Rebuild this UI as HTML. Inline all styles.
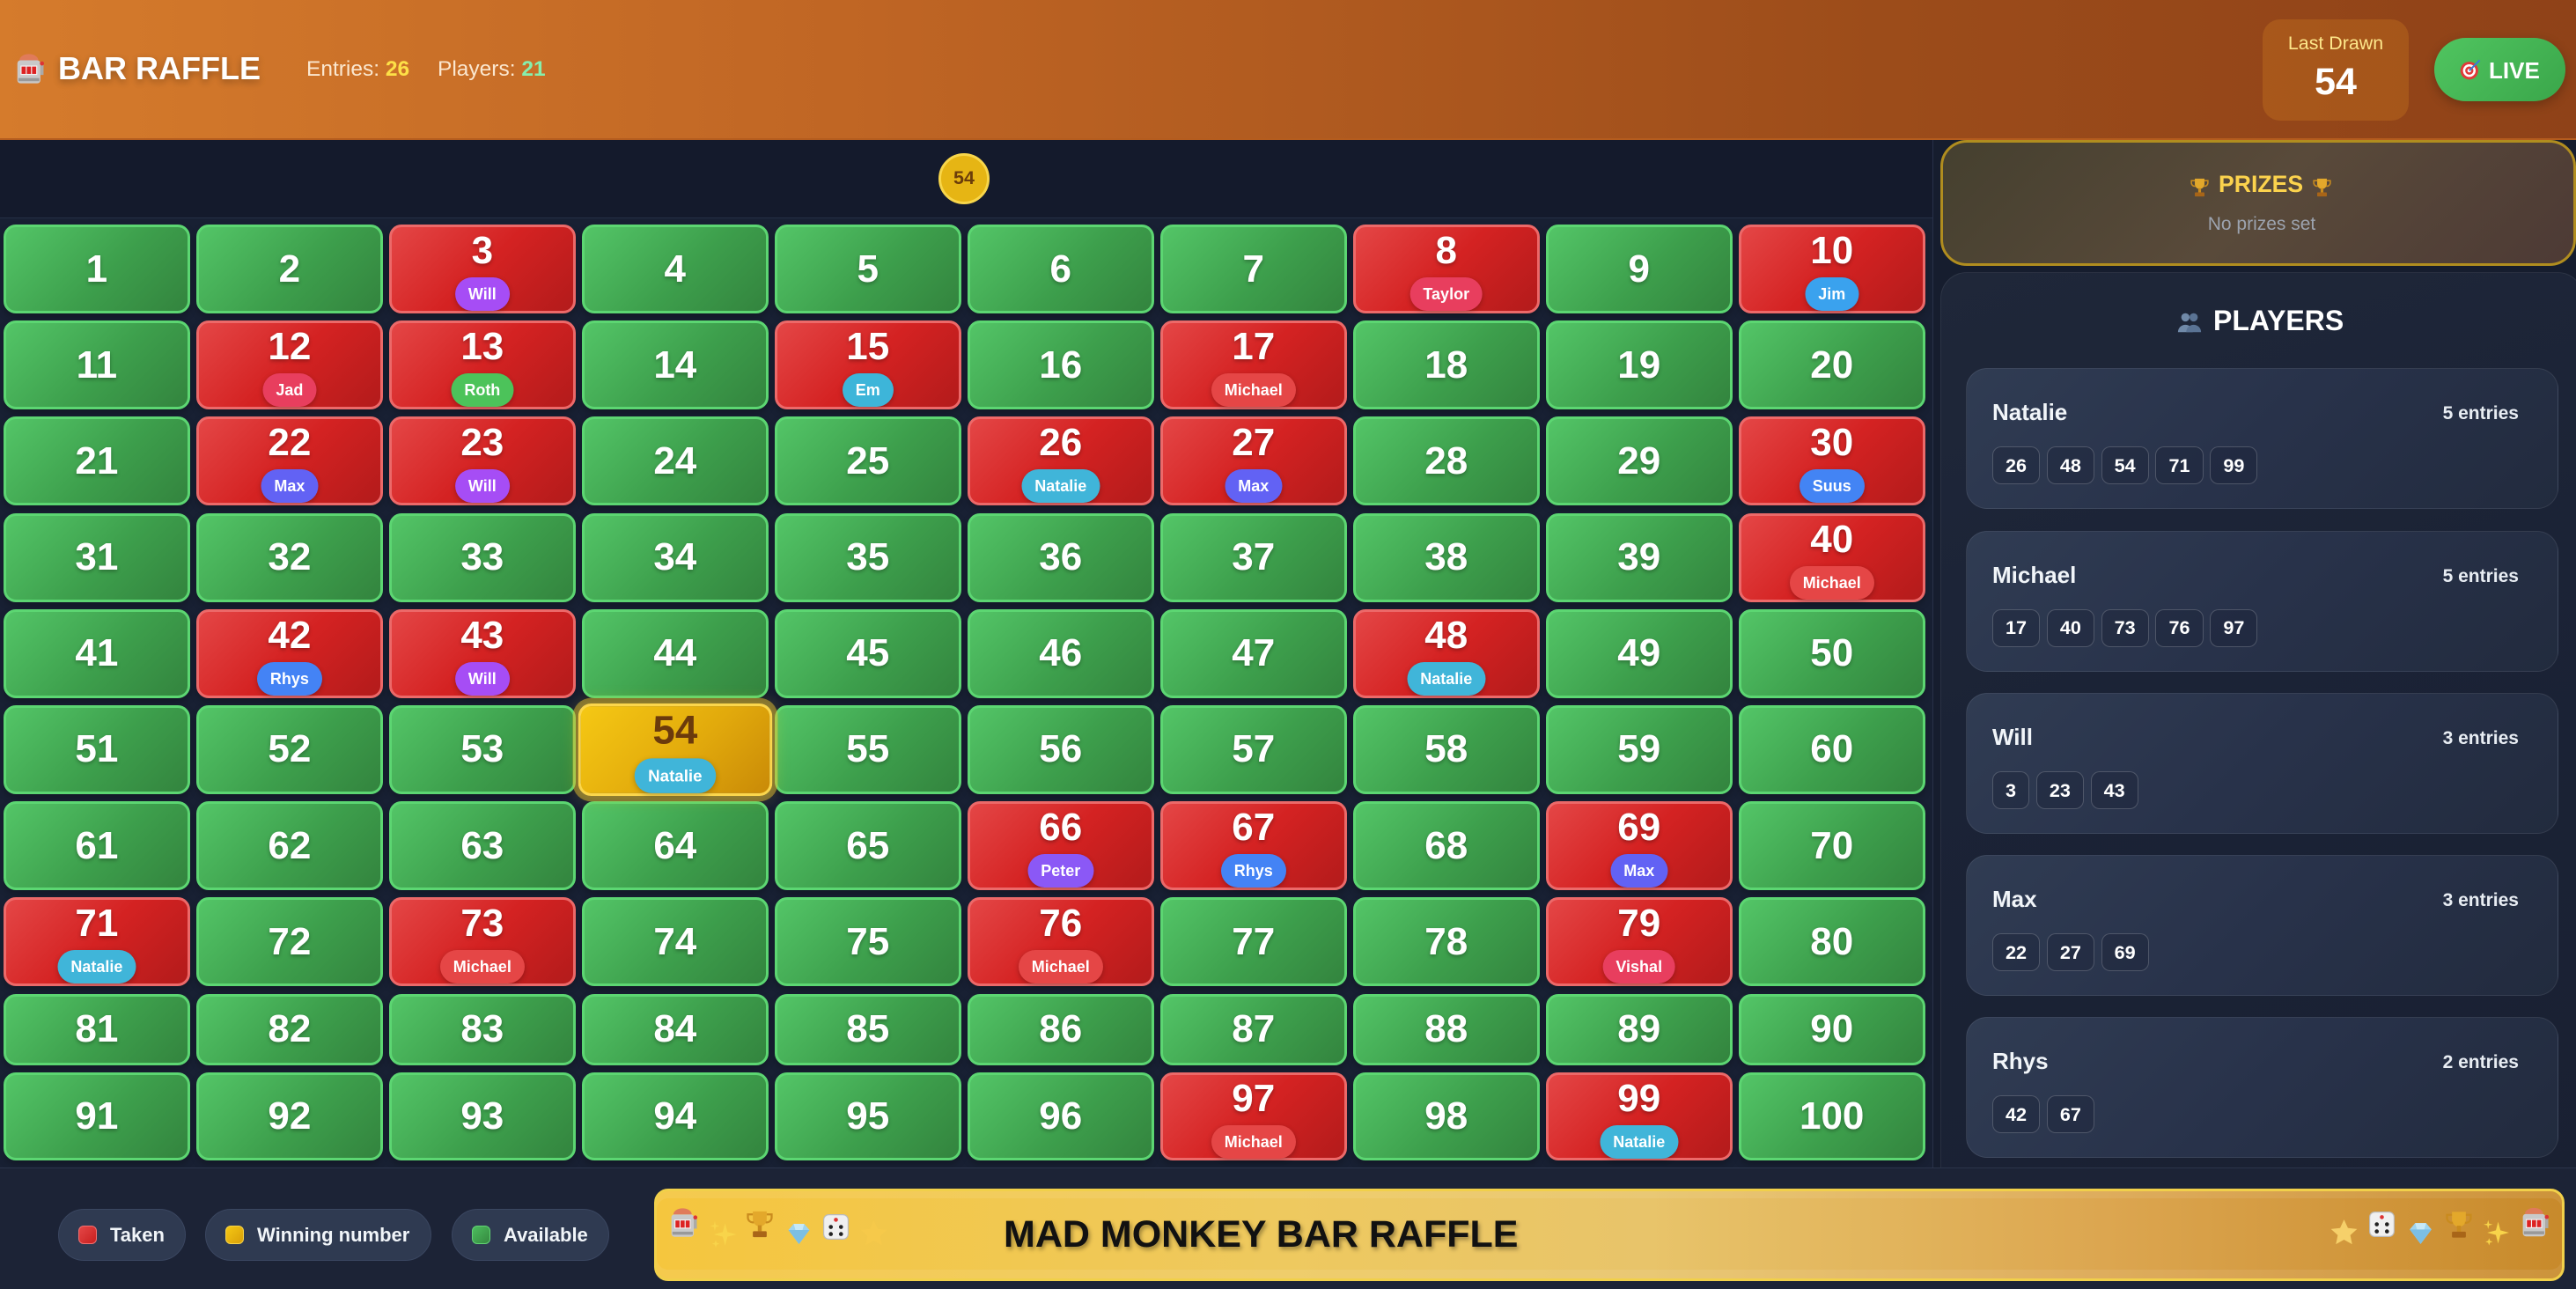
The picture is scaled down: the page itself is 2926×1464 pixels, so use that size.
<!DOCTYPE html>
<html><head><meta charset="utf-8">
<style>
*{margin:0;padding:0;box-sizing:border-box}
html,body{width:2926px;height:1464px;overflow:hidden;background:#171e30;font-family:"Liberation Sans",Arial,sans-serif;color:#fff}
.abs{position:absolute}
#hdr{position:absolute;left:0;top:0;width:2926px;height:159px;background:linear-gradient(90deg,#d57b2c 0%,#bf6524 34%,#9c4c1a 73%,#8f4218 100%);border-bottom:2px solid #b45c1e}
#band{position:absolute;left:0;top:159px;width:2195px;height:89px;background:#141a2c;border-bottom:1px solid #252e44}
#gridbg{position:absolute;left:0;top:248px;width:2195px;height:1078px;background:#182033}
#vline{position:absolute;left:2195px;top:159px;width:1px;height:1167px;background:#283048}
#side{position:absolute;left:2196px;top:159px;width:730px;height:1167px;background:#161d2e;overflow:hidden}
#foot{position:absolute;left:0;top:1326px;width:2926px;height:138px;background:#1c2336;border-top:1px solid #2b344a}
.grid{position:absolute;left:4px;top:255px;display:grid;grid-template-columns:repeat(10,211.7px);column-gap:7.3px;row-gap:8.2px;grid-template-rows:repeat(8,101px) 81px 100px}
.grid>div{position:relative;border:3px solid;border-radius:14px;display:flex;align-items:center;justify-content:center;color:#fff;font:bold 44px/44px "Liberation Sans",Arial,sans-serif;text-shadow:0 2px 4px rgba(0,0,0,.3);box-shadow:0 4px 8px rgba(0,0,0,.25)}
.grid .g{background:linear-gradient(135deg,#53c567 0%,#3d9f4c 55%,#33843e 100%);border-color:#5cd672}
.grid .r{background:linear-gradient(135deg,#e44646 0%,#d42222 50%,#b31b1b 100%);border-color:#ec6969}
.grid .w{background:linear-gradient(135deg,#f5c814 0%,#e2aa0c 55%,#c98a07 100%);border-color:#fbd64c;color:#6b3a0c;text-shadow:none;transform:scale(1.04);box-shadow:0 0 0 6px rgba(226,190,50,.5),0 0 18px rgba(250,204,21,.35);z-index:2}
.grid .r span,.grid .w span{position:absolute;top:5px;left:0;right:0;text-align:center}
.b{position:absolute;top:57px;left:50%;transform:translateX(-50%);height:38px;line-height:38px;padding:0 15px;border-radius:19px;font-size:18px;font-weight:bold;white-space:nowrap;text-shadow:none;color:#fff;box-shadow:0 2px 6px rgba(0,0,0,.25)}
.wi{background:#a64df5}.ta{background:#e83e5e}.ji{background:#3aa2ee}.ja{background:#e83e5e}.ro{background:#4cc35a}.em{background:#3db5d9}.mi{background:#e54646}.ma{background:#6262f4}.na{background:#40b5d9}.su{background:#4384f4}.rh{background:#4483f5}.pe{background:#8b58f6}.vi{background:#e83e5e}
.card{position:absolute;left:37px;width:673px;height:160px;border-radius:24px;background:linear-gradient(135deg,#303c53 0%,#28324a 50%,#222b3e 100%);border:1px solid rgba(255,255,255,.08)}
.card .nm{position:absolute;left:29px;top:36px;font:bold 26px/26px "Liberation Sans",Arial,sans-serif;color:#f1f5f9}
.card .en{position:absolute;right:44px;top:40px;font:bold 21px/21px "Liberation Sans",Arial,sans-serif;color:#e8edf3}
.card .ch{position:absolute;left:29px;top:88px;display:flex;gap:7.8px}
.card .ch div{height:43px;padding:0 14px;border:1px solid rgba(255,255,255,.2);border-radius:10px;background:rgba(20,28,45,.3);display:flex;align-items:center;justify-content:center;font:bold 21.6px/1 "Liberation Sans",Arial,sans-serif;color:#fff}
.pill{position:absolute;top:1373px;height:59px;border-radius:30px;background:#2f3a51;border:1px solid #3a4660}
.pill i{position:absolute;left:22px;top:18px;width:21px;height:21px;border-radius:6px}
.pill span{position:absolute;left:58px;top:18px;font:bold 22px/22px "Liberation Sans",Arial,sans-serif;color:#f1f5f9;white-space:nowrap}
svg.ic{position:absolute}
</style></head><body>

<div id="hdr"></div>
<svg class="ic" style="left:15px;top:59px" width="38" height="38" viewBox="0 0 32 32"><rect x="4" y="8" width="22" height="22" rx="3" fill="#c9c9c9"/><path d="M6 8a9 6 0 0 1 18 0z" fill="#e07b5a"/><rect x="7" y="13" width="16" height="9" fill="#f2f2f2"/><rect x="8" y="14" width="4" height="7" fill="#d22"/><rect x="13" y="14" width="4" height="7" fill="#d22"/><rect x="18" y="14" width="4" height="7" fill="#d22"/><rect x="26" y="12" width="3" height="10" fill="#aaa"/><circle cx="27.5" cy="11" r="2" fill="#d33"/><rect x="5" y="25" width="20" height="3" fill="#999"/></svg>
<div class="abs" style="left:66px;top:60px;font:bold 36px/36px 'Liberation Sans',Arial,sans-serif;color:#fff;text-shadow:0 3px 8px rgba(0,0,0,.3);white-space:nowrap">BAR RAFFLE</div>
<div class="abs" style="left:348px;top:66.5px;font:24.5px/24.5px 'Liberation Sans',Arial,sans-serif;color:#fbe7cf;white-space:nowrap">Entries: <b style="color:#fde047">26</b></div>
<div class="abs" style="left:497px;top:66.5px;font:24.5px/24.5px 'Liberation Sans',Arial,sans-serif;color:#fbe7cf;white-space:nowrap">Players: <b style="color:#86efac">21</b></div>

<div class="abs" style="left:2570px;top:22px;width:166px;height:115px;border-radius:20px;background:rgba(255,165,40,.18)"></div>
<div class="abs" style="left:2570px;top:39px;width:166px;text-align:center;font:21.4px/21.4px 'Liberation Sans',Arial,sans-serif;color:#fde68a">Last Drawn</div>
<div class="abs" style="left:2570px;top:71.6px;width:166px;text-align:center;font:bold 43px/43px 'Liberation Sans',Arial,sans-serif;color:#fff">54</div>

<div class="abs" style="left:2765px;top:43px;width:149px;height:72px;border-radius:36px;background:linear-gradient(135deg,#50c560,#3aa64a);box-shadow:0 4px 12px rgba(0,0,0,.25)"></div>
<svg class="ic" style="left:2793px;top:65px" width="27" height="27" viewBox="0 0 32 32"><circle cx="14" cy="18" r="12" fill="#e03a3a"/><circle cx="14" cy="18" r="8.5" fill="#fff"/><circle cx="14" cy="18" r="5.5" fill="#e03a3a"/><circle cx="14" cy="18" r="2.5" fill="#fff"/><path d="M14 18L28 4" stroke="#3a7bd5" stroke-width="2.5"/></svg>
<div class="abs" style="left:2827px;top:67px;font:bold 26px/26px 'Liberation Sans',Arial,sans-serif;color:#fff">LIVE</div>

<div id="band"></div>
<div class="abs" style="left:1066px;top:174px;width:58px;height:58px;border-radius:50%;background:#e6b514;border:3px solid #f8d64a;display:flex;align-items:center;justify-content:center;font:bold 21.5px/1 'Liberation Sans',Arial,sans-serif;color:#6b3d0a">54</div>
<div id="gridbg"></div>
<div id="vline"></div>

<div class="grid">
<div class="g"><span>1</span></div><div class="g"><span>2</span></div><div class="r"><span>3</span><b class="b wi">Will</b></div><div class="g"><span>4</span></div><div class="g"><span>5</span></div><div class="g"><span>6</span></div><div class="g"><span>7</span></div><div class="r"><span>8</span><b class="b ta">Taylor</b></div><div class="g"><span>9</span></div><div class="r"><span>10</span><b class="b ji">Jim</b></div>
<div class="g"><span>11</span></div><div class="r"><span>12</span><b class="b ja">Jad</b></div><div class="r"><span>13</span><b class="b ro">Roth</b></div><div class="g"><span>14</span></div><div class="r"><span>15</span><b class="b em">Em</b></div><div class="g"><span>16</span></div><div class="r"><span>17</span><b class="b mi">Michael</b></div><div class="g"><span>18</span></div><div class="g"><span>19</span></div><div class="g"><span>20</span></div>
<div class="g"><span>21</span></div><div class="r"><span>22</span><b class="b ma">Max</b></div><div class="r"><span>23</span><b class="b wi">Will</b></div><div class="g"><span>24</span></div><div class="g"><span>25</span></div><div class="r"><span>26</span><b class="b na">Natalie</b></div><div class="r"><span>27</span><b class="b ma">Max</b></div><div class="g"><span>28</span></div><div class="g"><span>29</span></div><div class="r"><span>30</span><b class="b su">Suus</b></div>
<div class="g"><span>31</span></div><div class="g"><span>32</span></div><div class="g"><span>33</span></div><div class="g"><span>34</span></div><div class="g"><span>35</span></div><div class="g"><span>36</span></div><div class="g"><span>37</span></div><div class="g"><span>38</span></div><div class="g"><span>39</span></div><div class="r"><span>40</span><b class="b mi">Michael</b></div>
<div class="g"><span>41</span></div><div class="r"><span>42</span><b class="b rh">Rhys</b></div><div class="r"><span>43</span><b class="b wi">Will</b></div><div class="g"><span>44</span></div><div class="g"><span>45</span></div><div class="g"><span>46</span></div><div class="g"><span>47</span></div><div class="r"><span>48</span><b class="b na">Natalie</b></div><div class="g"><span>49</span></div><div class="g"><span>50</span></div>
<div class="g"><span>51</span></div><div class="g"><span>52</span></div><div class="g"><span>53</span></div><div class="w"><span>54</span><b class="b na">Natalie</b></div><div class="g"><span>55</span></div><div class="g"><span>56</span></div><div class="g"><span>57</span></div><div class="g"><span>58</span></div><div class="g"><span>59</span></div><div class="g"><span>60</span></div>
<div class="g"><span>61</span></div><div class="g"><span>62</span></div><div class="g"><span>63</span></div><div class="g"><span>64</span></div><div class="g"><span>65</span></div><div class="r"><span>66</span><b class="b pe">Peter</b></div><div class="r"><span>67</span><b class="b rh">Rhys</b></div><div class="g"><span>68</span></div><div class="r"><span>69</span><b class="b ma">Max</b></div><div class="g"><span>70</span></div>
<div class="r"><span>71</span><b class="b na">Natalie</b></div><div class="g"><span>72</span></div><div class="r"><span>73</span><b class="b mi">Michael</b></div><div class="g"><span>74</span></div><div class="g"><span>75</span></div><div class="r"><span>76</span><b class="b mi">Michael</b></div><div class="g"><span>77</span></div><div class="g"><span>78</span></div><div class="r"><span>79</span><b class="b vi">Vishal</b></div><div class="g"><span>80</span></div>
<div class="g"><span>81</span></div><div class="g"><span>82</span></div><div class="g"><span>83</span></div><div class="g"><span>84</span></div><div class="g"><span>85</span></div><div class="g"><span>86</span></div><div class="g"><span>87</span></div><div class="g"><span>88</span></div><div class="g"><span>89</span></div><div class="g"><span>90</span></div>
<div class="g"><span>91</span></div><div class="g"><span>92</span></div><div class="g"><span>93</span></div><div class="g"><span>94</span></div><div class="g"><span>95</span></div><div class="g"><span>96</span></div><div class="r"><span>97</span><b class="b mi">Michael</b></div><div class="g"><span>98</span></div><div class="r"><span>99</span><b class="b na">Natalie</b></div><div class="g"><span>100</span></div>
</div>

<div id="side">
  <div class="abs" style="left:8px;top:0px;width:722px;height:143px;border-radius:30px;border:3px solid #b08d1f;background:linear-gradient(135deg,#45402f 0%,#594a3a 50%,#4d3a35 100%)"></div>
  <svg class="ic" style="left:290px;top:39px" width="25" height="30" viewBox="0 0 32 32"><path d="M9 3h14v8a7 7 0 0 1-14 0z" fill="#e3a82b"/><path d="M9 6H4v3a5 5 0 0 0 6 5M23 6h5v3a5 5 0 0 1-6 5" fill="none" stroke="#c98b1e" stroke-width="2"/><rect x="14" y="17" width="4" height="6" fill="#c98b1e"/><rect x="9" y="23" width="14" height="6" rx="1" fill="#a86518"/></svg>
  <div class="abs" style="left:324px;top:36.5px;font:bold 26.6px/26.6px 'Liberation Sans',Arial,sans-serif;color:#fcd34d">PRIZES</div>
  <svg class="ic" style="left:429px;top:39px" width="25" height="30" viewBox="0 0 32 32"><path d="M9 3h14v8a7 7 0 0 1-14 0z" fill="#e3a82b"/><path d="M9 6H4v3a5 5 0 0 0 6 5M23 6h5v3a5 5 0 0 1-6 5" fill="none" stroke="#c98b1e" stroke-width="2"/><rect x="14" y="17" width="4" height="6" fill="#c98b1e"/><rect x="9" y="23" width="14" height="6" rx="1" fill="#a86518"/></svg>
  <div class="abs" style="left:8px;width:730px;top:85.2px;text-align:center;font:21px/21px 'Liberation Sans',Arial,sans-serif;color:#9ca3af">No prizes set</div>

  <div class="abs" style="left:8px;top:150px;width:731px;height:1100px;border-radius:30px;border:1px solid rgba(255,255,255,.07);background:linear-gradient(160deg,#1f2739 0%,#1b2336 40%,#192032 100%)">
    <svg class="ic" style="left:266px;top:41px" width="32" height="30" viewBox="0 0 32 32"><circle cx="11" cy="10" r="5" fill="#7089a8"/><path d="M2 28a9 9 0 0 1 18 0z" fill="#7089a8"/><circle cx="21" cy="10" r="5" fill="#5a7394"/><path d="M12 28a9 9 0 0 1 18 0z" fill="#5a7394"/></svg>
    <div class="abs" style="left:309px;top:38px;font:bold 32px/32px 'Liberation Sans',Arial,sans-serif;color:#fff;white-space:nowrap">PLAYERS</div>
  </div>
  <div class="card" style="top:259px"><div class="nm">Natalie</div><div class="en">5 entries</div><div class="ch"><div>26</div><div>48</div><div>54</div><div>71</div><div>99</div></div></div>
  <div class="card" style="top:443.7px"><div class="nm">Michael</div><div class="en">5 entries</div><div class="ch"><div>17</div><div>40</div><div>73</div><div>76</div><div>97</div></div></div>
  <div class="card" style="top:628px"><div class="nm">Will</div><div class="en">3 entries</div><div class="ch"><div>3</div><div>23</div><div>43</div></div></div>
  <div class="card" style="top:812px"><div class="nm">Max</div><div class="en">3 entries</div><div class="ch"><div>22</div><div>27</div><div>69</div></div></div>
  <div class="card" style="top:996px"><div class="nm">Rhys</div><div class="en">2 entries</div><div class="ch"><div>42</div><div>67</div></div></div>
</div>

<div id="foot"></div>
<div class="pill" style="left:66px;width:145px"><i style="background:linear-gradient(135deg,#e44646,#c81f1f);border:1px solid #f07070"></i><span>Taken</span></div>
<div class="pill" style="left:233px;width:257px"><i style="background:linear-gradient(135deg,#f5c814,#d99f08);border:1px solid #f7d44a"></i><span>Winning number</span></div>
<div class="pill" style="left:513px;width:179px"><i style="background:linear-gradient(135deg,#4cbd5e,#35883f);border:1px solid #62d474"></i><span>Available</span></div>

<div class="abs" style="left:743px;top:1350px;width:2170px;height:105px;border-radius:16px;border:3px solid #f1d04a;background:linear-gradient(90deg,#f5c63e 0%,#eec95f 33%,#e8c46a 52%,#dca650 76%,#c88a2b 100%);box-shadow:inset 0 8px 0 rgba(255,255,255,.08),inset 0 -10px 0 rgba(255,255,255,.08)"></div>
<div class="abs" style="left:1140px;top:1380.9px;font:bold 43px/43px 'Liberation Sans',Arial,sans-serif;color:#111;text-shadow:2px 3px 5px rgba(0,0,0,.35);white-space:nowrap">MAD MONKEY BAR RAFFLE</div>

<!-- left emojis -->
<svg class="ic" style="left:758px;top:1370px" width="37" height="37" viewBox="0 0 32 32"><rect x="4" y="8" width="22" height="22" rx="3" fill="#c9c9c9"/><path d="M6 8a9 6 0 0 1 18 0z" fill="#e07b5a"/><rect x="7" y="13" width="16" height="9" fill="#f2f2f2"/><rect x="8" y="14" width="4" height="7" fill="#d22"/><rect x="13" y="14" width="4" height="7" fill="#d22"/><rect x="18" y="14" width="4" height="7" fill="#d22"/><rect x="26" y="12" width="3" height="10" fill="#aaa"/><circle cx="27.5" cy="11" r="2" fill="#d33"/><rect x="5" y="25" width="20" height="3" fill="#999"/></svg>
<svg class="ic" style="left:804px;top:1385px" width="35" height="34" viewBox="0 0 32 32"><path d="M18 4l2.5 9.5L30 16l-9.5 2.5L18 28l-2.5-9.5L6 16l9.5-2.5z" fill="#f8d44a"/><path d="M7 2l1 4 4 1-4 1-1 4-1-4-4-1 4-1z" fill="#f8d44a"/><path d="M8 22l1 3 3 1-3 1-1 3-1-3-3-1 3-1z" fill="#f8d44a"/></svg>
<svg class="ic" style="left:845px;top:1372px" width="36" height="37" viewBox="0 0 32 32"><path d="M9 3h14v8a7 7 0 0 1-14 0z" fill="#e3a82b"/><path d="M9 6H4v3a5 5 0 0 0 6 5M23 6h5v3a5 5 0 0 1-6 5" fill="none" stroke="#c98b1e" stroke-width="2"/><rect x="14" y="17" width="4" height="6" fill="#c98b1e"/><rect x="9" y="23" width="14" height="6" rx="1" fill="#a86518"/></svg>
<svg class="ic" style="left:890px;top:1385px" width="35" height="32" viewBox="0 0 32 32"><path d="M4 12l6-7h12l6 7-12 16z" fill="#9fd4ef"/><path d="M4 12h24L16 28z" fill="#7cbfe4"/><path d="M10 5l2 7h8l2-7" fill="#c7e9f8"/></svg>
<svg class="ic" style="left:931px;top:1375px" width="37" height="37" viewBox="0 0 32 32"><rect x="4" y="4" width="24" height="24" rx="5" fill="#f0f0f0" stroke="#bbb"/><circle cx="16" cy="9" r="2" fill="#d33"/><circle cx="11" cy="16" r="2" fill="#222"/><circle cx="21" cy="16" r="2" fill="#222"/><circle cx="11" cy="23" r="2" fill="#222"/><circle cx="21" cy="23" r="2" fill="#222"/></svg>
<svg class="ic" style="left:975px;top:1384px" width="35" height="34" viewBox="0 0 32 32"><path d="M16 2l4.2 9 9.8 1.1-7.3 6.6 2 9.7L16 23.5 7.3 28.4l2-9.7L2 12.1l9.8-1.1z" fill="#f6c94a"/></svg>
<!-- right emojis -->
<svg class="ic" style="left:2645px;top:1383px" width="35" height="34" viewBox="0 0 32 32"><path d="M16 2l4.2 9 9.8 1.1-7.3 6.6 2 9.7L16 23.5 7.3 28.4l2-9.7L2 12.1l9.8-1.1z" fill="#f6d06a"/></svg>
<svg class="ic" style="left:2687px;top:1372px" width="37" height="37" viewBox="0 0 32 32"><rect x="4" y="4" width="24" height="24" rx="5" fill="#f0f0f0" stroke="#bbb"/><circle cx="16" cy="9" r="2" fill="#d33"/><circle cx="11" cy="16" r="2" fill="#222"/><circle cx="21" cy="16" r="2" fill="#222"/><circle cx="11" cy="23" r="2" fill="#222"/><circle cx="21" cy="23" r="2" fill="#222"/></svg>
<svg class="ic" style="left:2732px;top:1384px" width="35" height="33" viewBox="0 0 32 32"><path d="M4 12l6-7h12l6 7-12 16z" fill="#9fd4ef"/><path d="M4 12h24L16 28z" fill="#7cbfe4"/><path d="M10 5l2 7h8l2-7" fill="#c7e9f8"/></svg>
<svg class="ic" style="left:2775px;top:1372px" width="36" height="38" viewBox="0 0 32 32"><path d="M9 3h14v8a7 7 0 0 1-14 0z" fill="#e3a82b"/><path d="M9 6H4v3a5 5 0 0 0 6 5M23 6h5v3a5 5 0 0 1-6 5" fill="none" stroke="#c98b1e" stroke-width="2"/><rect x="14" y="17" width="4" height="6" fill="#c98b1e"/><rect x="9" y="23" width="14" height="6" rx="1" fill="#a86518"/></svg>
<svg class="ic" style="left:2819px;top:1383px" width="33" height="34" viewBox="0 0 32 32"><path d="M18 4l2.5 9.5L30 16l-9.5 2.5L18 28l-2.5-9.5L6 16l9.5-2.5z" fill="#f8d44a"/><path d="M7 2l1 4 4 1-4 1-1 4-1-4-4-1 4-1z" fill="#f8d44a"/><path d="M8 22l1 3 3 1-3 1-1 3-1-3-3-1 3-1z" fill="#f8d44a"/></svg>
<svg class="ic" style="left:2861px;top:1369px" width="37" height="38" viewBox="0 0 32 32"><rect x="4" y="8" width="22" height="22" rx="3" fill="#c9c9c9"/><path d="M6 8a9 6 0 0 1 18 0z" fill="#e07b5a"/><rect x="7" y="13" width="16" height="9" fill="#f2f2f2"/><rect x="8" y="14" width="4" height="7" fill="#d22"/><rect x="13" y="14" width="4" height="7" fill="#d22"/><rect x="18" y="14" width="4" height="7" fill="#d22"/><rect x="26" y="12" width="3" height="10" fill="#aaa"/><circle cx="27.5" cy="11" r="2" fill="#d33"/><rect x="5" y="25" width="20" height="3" fill="#999"/></svg>

</body></html>
